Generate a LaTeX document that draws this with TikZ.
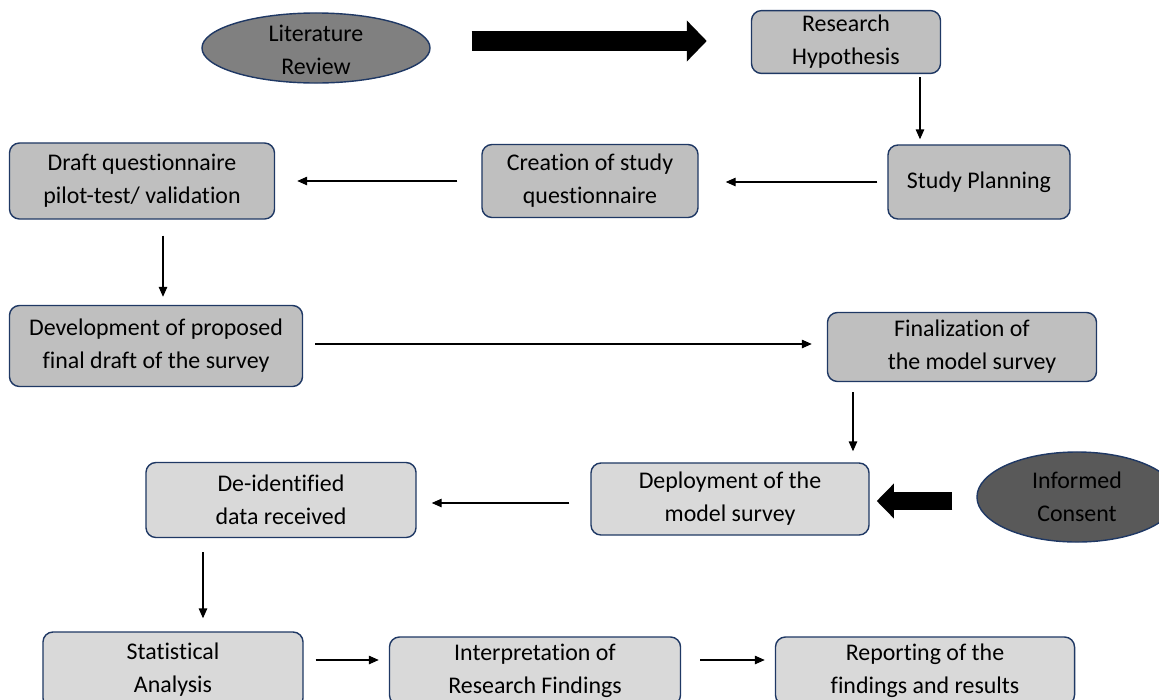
\documentclass[tikz,border=0pt]{standalone}
\usepackage{fontspec}
\setmainfont{Carlito}[Ligatures={NoCommon,NoRequired,NoContextual}]
\usepackage{xcolor}
\usepackage{tikz}
\usetikzlibrary{shapes.geometric, arrows.meta, positioning, calc}

\definecolor{edgeblue}{HTML}{1F3864}
\definecolor{darkgrey}{HTML}{BFBFBF}
\definecolor{lightgrey}{HTML}{D9D9D9}
\definecolor{ovalgrey}{HTML}{808080}
\definecolor{ovaldark}{HTML}{595959}

\begin{document}
\begin{tikzpicture}[
    x=0.025cm, y=-0.025cm,
    every node/.style={font=\fontsize{17}{23.5}\selectfont, align=center},
    dbox/.style={rectangle, draw=edgeblue, line width=1pt, rounded corners=0.25cm, fill=darkgrey},
    lbox/.style={dbox, fill=lightgrey},
    oval/.style={ellipse, draw=edgeblue, line width=1pt, inner sep=0pt},
    arr/.style={-{Triangle[length=7pt, width=6pt]}, line width=0.8pt},
    bigarr/.style={-{Triangle[length=0.5cm, width=1.0cm]}, line width=0.5cm}
]
\useasboundingbox (0,0) rectangle (1159,699);
\clip (0,0) rectangle (1159,699);

\node[oval, fill=ovalgrey, minimum width=5.7cm, minimum height=1.75cm] (lit) at (316,48) {\raisebox{-7pt}[0pt][0pt]{\begin{tabular}{@{}c@{}}Literature\\Review\end{tabular}}};
\node[dbox, minimum width=4.725cm, minimum height=1.5cm]   (hyp)    at (846,42)  {Research\\Hypothesis};
\node[dbox, minimum width=4.55cm, minimum height=1.85cm]   (plan)   at (979,182) {Study Planning};
\node[dbox, minimum width=5.4cm, minimum height=1.825cm]   (quest)  at (590,181) {Creation of study\\questionnaire};
\node[dbox, minimum width=6.625cm, minimum height=1.9cm]   (draft)  at (142,181) {Draft questionnaire\\pilot-test/ validation};
\node[dbox, minimum width=7.325cm, minimum height=2.025cm] (dev)    at (156,346) {Development of proposed\\final draft of the survey};
\node[dbox, minimum width=6.725cm, minimum height=1.725cm] (fin)    at (962,347) {Finalization of\\\hspace*{0.5cm}the model survey};
\node[lbox, minimum width=6.95cm, minimum height=1.8cm]    (dep)    at (730,499) {Deployment of the\\model survey};
\node[oval, fill=ovaldark, minimum width=5.0cm, minimum height=2.25cm] (cons) at (1077,497) {Informed\\Consent};
\node[lbox, minimum width=6.75cm, minimum height=1.875cm]  (deid)   at (281,500) {De-identified\\data received};
\node[lbox, minimum width=6.5cm, minimum height=1.9cm]     (stat)   at (173,670) {Statistical\\Analysis};
\node[lbox, minimum width=7.275cm, minimum height=1.7cm]   (interp) at (535,671) {Interpretation of\\Research Findings};
\node[lbox, minimum width=7.475cm, minimum height=1.7cm]   (report) at (925,671) {Reporting of the\\findings and results};

\draw[bigarr, shorten <=1.025cm, shorten >=1.1cm] ($(lit.east)+(0,-7)$) -- ($(hyp.west)+(0,-1)$);
\draw[arr, shorten <=0.075cm, shorten >=0.125cm] ($(hyp.south)+(74,0)$) -- ($(plan.north)+(-59,0)$);
\draw[arr, shorten <=0.25cm, shorten >=0.675cm] (plan.west) -- (plan.west -| quest.east);
\draw[arr, shorten <=0.6cm, shorten >=0.55cm] (quest.west) -- (quest.west -| draft.east);
\draw[arr, shorten <=0.4cm, shorten >=0.2cm] ($(draft.south)+(21,0)$) -- ($(dev.north)+(7,0)$);
\draw[arr, shorten <=0.3cm, shorten >=0.375cm] ($(dev.east)+(0,-2)$) -- ($(fin.west)+(0,-3)$);
\draw[arr, shorten <=0.25cm, shorten >=0.275cm] ($(fin.south)+(-109,0)$) -- ($(dep.north)+(123,0)$);
\draw[bigarr, line width=0.45cm, -{Triangle[length=0.43cm, width=0.85cm]}, shorten <=0.6cm, shorten >=0.175cm] ($(cons.west)+(0,4)$) -- ($(dep.east)+(0,2)$);
\draw[arr, shorten <=0.525cm, shorten >=0.375cm] ($(dep.west)+(0,4)$) -- ($(deid.east)+(0,3)$);
\draw[arr, shorten <=0.35cm, shorten >=0.325cm] ($(deid.south)+(-78,0)$) -- ($(stat.north)+(30,0)$);
\draw[arr, shorten <=0.3cm, shorten >=0.25cm] ($(stat.east)+(0,-10)$) -- ($(interp.west)+(0,-11)$);
\draw[arr, shorten <=0.475cm, shorten >=0.25cm] ($(interp.east)+(0,-11)$) -- ($(report.west)+(0,-11)$);
\end{tikzpicture}
\end{document}
